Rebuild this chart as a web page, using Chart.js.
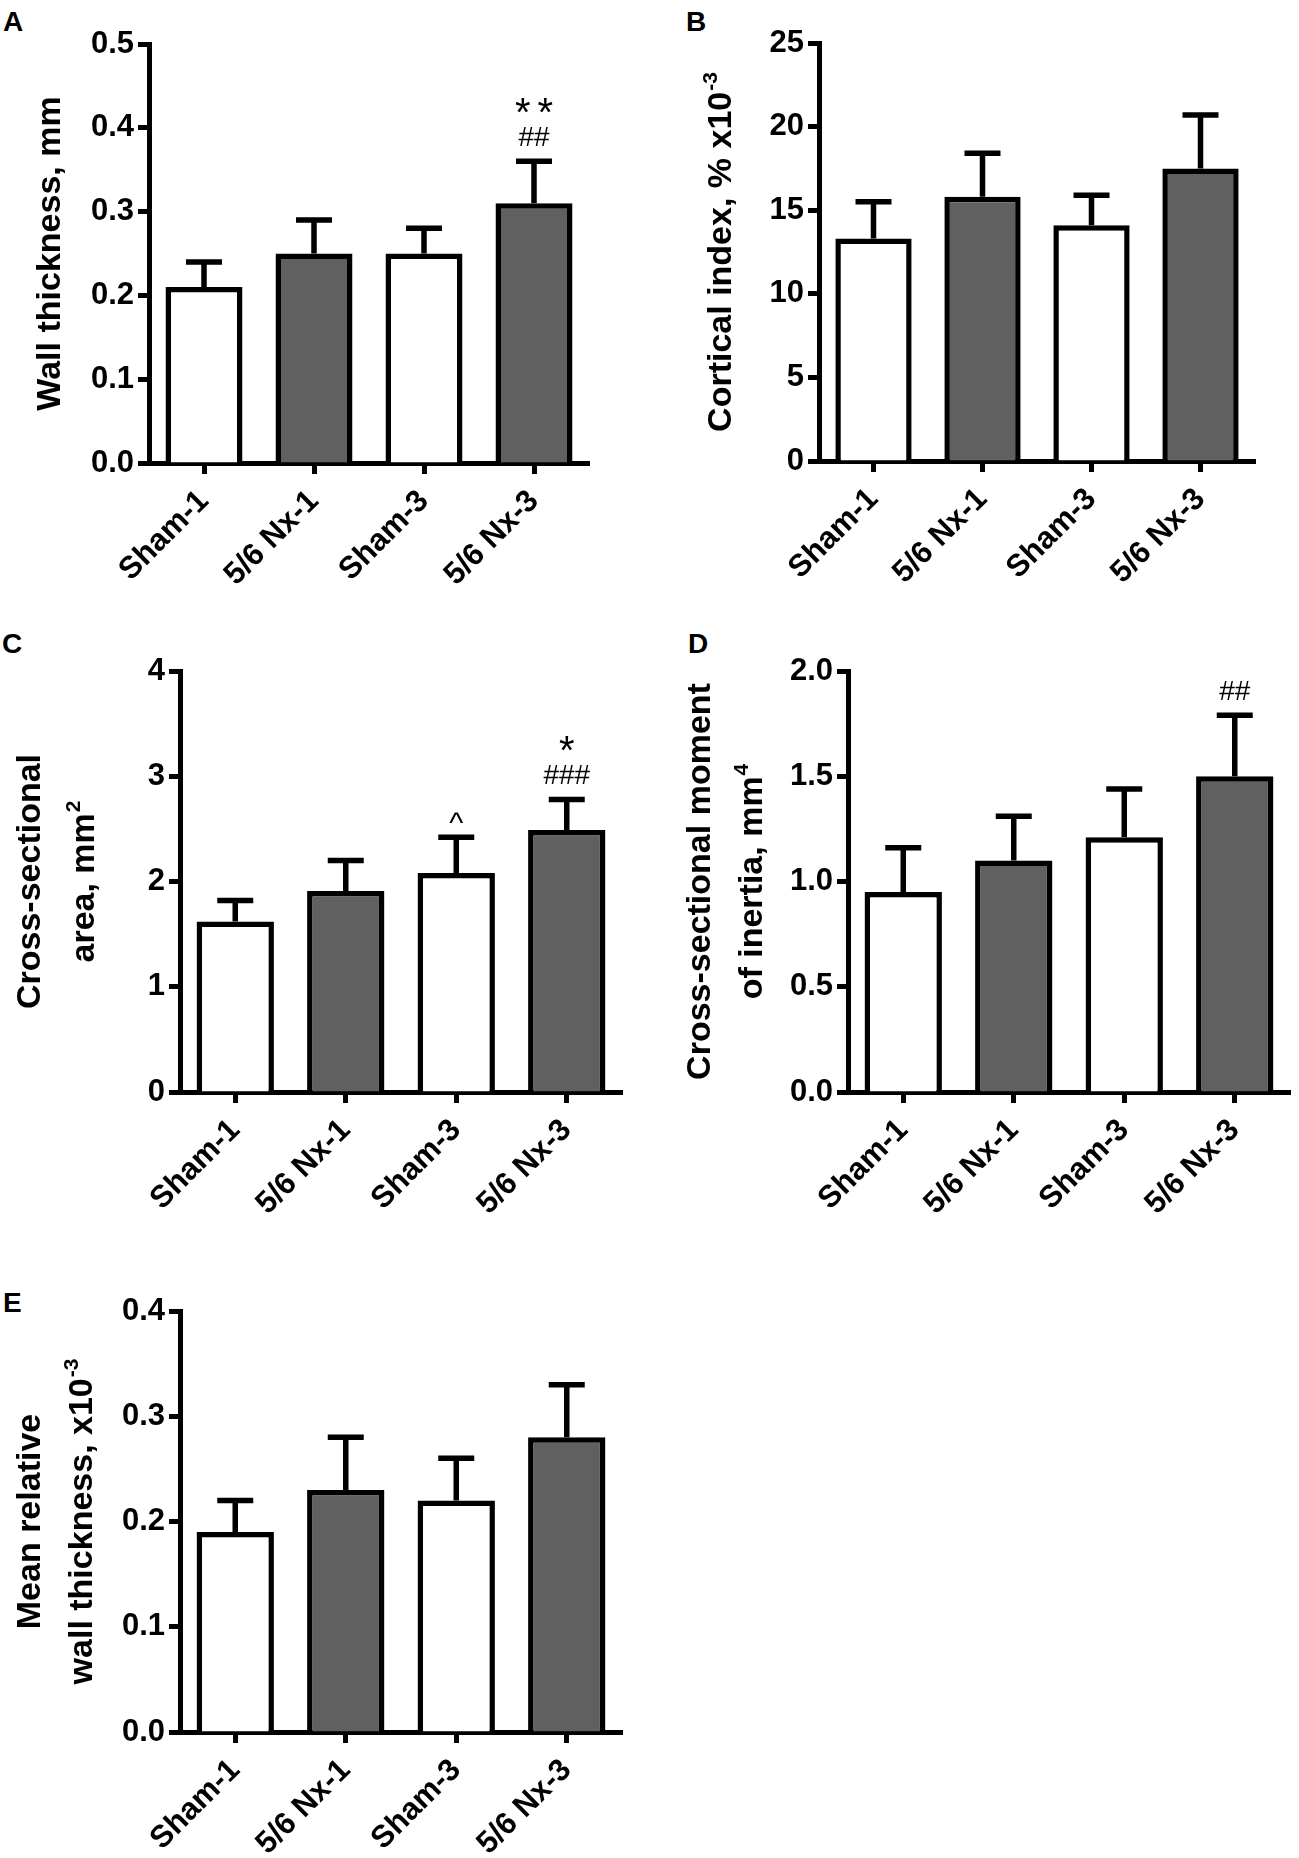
<!DOCTYPE html>
<html>
<head>
<meta charset="utf-8">
<script src="https://cdn.jsdelivr.net/npm/chart.js@4.4.1/dist/chart.umd.min.js"></script>
<style>
  body { margin: 0; background: #fff; }
  #wrap { position: relative; width: 1299px; height: 1858px; background: #fff; }
  canvas { position: absolute; }
  .tag { position: absolute; font: bold 28px "Liberation Sans", Arial, sans-serif; line-height: 28px; color: #000; }
</style>
</head>
<body>
<div id="wrap">
  <div class="tag" style="left:3px;top:8px">A</div>
  <div class="tag" style="left:686px;top:8px">B</div>
  <div class="tag" style="left:2px;top:630px">C</div>
  <div class="tag" style="left:688px;top:630px">D</div>
  <div class="tag" style="left:3px;top:1289px">E</div>
  <canvas id="cA" width="650" height="620" style="left:0;top:0"></canvas>
  <canvas id="cB" width="649" height="620" style="left:650px;top:0"></canvas>
  <canvas id="cC" width="650" height="618" style="left:0;top:620px"></canvas>
  <canvas id="cD" width="649" height="618" style="left:650px;top:620px"></canvas>
  <canvas id="cE" width="650" height="620" style="left:0;top:1238px"></canvas>
</div>
<script>
// groups on the x axis
const categories = ['Sham-1', '5/6 Nx-1', 'Sham-3', '5/6 Nx-3'];
const barFills = ['#ffffff', '#606060', '#ffffff', '#606060'];

// A - wall thickness (mean and mean+SD)
const wallThickness = [0.21, 0.25, 0.25, 0.31];
const wallThicknessTop = [0.24, 0.29, 0.28, 0.36];
// B - cortical index
const corticalIndex = [13.3, 15.8, 14.1, 17.5];
const corticalIndexTop = [15.5, 18.4, 15.9, 20.7];
// C - cross-sectional area
const crossArea = [1.62, 1.91, 2.08, 2.49];
const crossAreaTop = [1.82, 2.20, 2.42, 2.78];
// D - cross-sectional moment of inertia
const inertia = [0.95, 1.10, 1.21, 1.50];
const inertiaTop = [1.16, 1.31, 1.44, 1.79];
// E - mean relative wall thickness
const relWall = [0.19, 0.23, 0.22, 0.28];
const relWallTop = [0.22, 0.28, 0.26, 0.33];

// significance marks above the error bars, bottom line first
const marksA = [[], [], [], ['##', '**']];
const marksB = [[], [], [], []];
const marksC = [[], [], ['^'], ['###', '*']];
const marksD = [[], [], [], ['##']];
const marksE = [[], [], [], []];

// y axis titles, text after ^ is a superscript
const titleA = ['Wall thickness, mm'];
const titleB = ['Cortical index, % x10^-3'];
const titleC = ['Cross-sectional', 'area, mm^2'];
const titleD = ['Cross-sectional moment', 'of inertia, mm^4'];
const titleE = ['Mean relative', 'wall thickness, x10^-3'];

const FONT = '"Liberation Sans", Arial, sans-serif';
Chart.defaults.font.family = FONT;
Chart.defaults.color = '#000';

const errorBars = {
  id: 'errorBars',
  afterDatasetsDraw(chart, args, opts) {
    const ctx = chart.ctx;
    const y = chart.scales.y;
    const meta = chart.getDatasetMeta(0);
    ctx.save();
    ctx.strokeStyle = '#000';
    ctx.lineWidth = 5.5;
    meta.data.forEach((bar, i) => {
      const top = y.getPixelForValue(opts.tops[i]);
      ctx.beginPath();
      ctx.moveTo(bar.x, bar.y);
      ctx.lineTo(bar.x, top);
      ctx.moveTo(bar.x - 18, top);
      ctx.lineTo(bar.x + 18, top);
      ctx.stroke();
    });
    ctx.restore();
  }
};

// font size and glyph centre (fraction of size above baseline) for each mark
const markStyle = {
  '#': { size: 28, centre: 0.36 },
  '*': { size: 40, centre: 0.55 },
  '^': { size: 30, centre: 0.52 }
};

const sigMarks = {
  id: 'sigMarks',
  afterDatasetsDraw(chart, args, opts) {
    const ctx = chart.ctx;
    const y = chart.scales.y;
    const meta = chart.getDatasetMeta(0);
    ctx.save();
    ctx.fillStyle = '#000';
    ctx.textAlign = 'center';
    ctx.textBaseline = 'alphabetic';
    meta.data.forEach((bar, i) => {
      const top = y.getPixelForValue(opts.tops[i]);
      let rise = 0;
      opts.marks[i].forEach((txt, k) => {
        const st = markStyle[txt[0]];
        rise += (k === 0) ? (txt[0] === '^' ? 20 : 25) : 32;
        ctx.font = st.size + 'px ' + FONT;
        const spaced = txt[0] === '*' && txt.length > 1;
        ctx.letterSpacing = spaced ? '7px' : '0px';
        ctx.fillText(txt, bar.x + (spaced ? 3.5 : 0), top - rise + st.centre * st.size);
      });
    });
    ctx.restore();
  }
};

const axisTitle = {
  id: 'axisTitle',
  afterDraw(chart, args, opts) {
    const ctx = chart.ctx;
    const area = chart.chartArea;
    const cy = (area.top + area.bottom) / 2;
    ctx.save();
    ctx.fillStyle = '#000';
    ctx.textBaseline = 'alphabetic';
    ctx.textAlign = 'left';
    opts.lines.forEach((line, k) => {
      const [main, sup] = line.split('^');
      ctx.font = 'bold 34px ' + FONT;
      const wMain = ctx.measureText(main).width;
      ctx.font = 'bold 21px ' + FONT;
      const wSup = sup ? ctx.measureText(sup).width + 1 : 0;
      ctx.save();
      ctx.translate(opts.x[k] + 12.2, cy);
      ctx.rotate(-Math.PI / 2);
      const x0 = -(wMain + wSup) / 2;
      ctx.font = 'bold 34px ' + FONT;
      ctx.fillText(main, x0, 0);
      if (sup) {
        ctx.font = 'bold 21px ' + FONT;
        ctx.fillText(sup, x0 + wMain + 1, -14);
      }
      ctx.restore();
    });
    ctx.restore();
  }
};

function panel(id, values, tops, marks, yMin, yMax, step, decimals, title, box) {
  const cv = document.getElementById(id);
  const tickFont = { size: 31, weight: 'bold' };
  const gridOpts = { display: true, drawOnChartArea: false, tickLength: 11, tickWidth: 5, tickColor: '#000' };
  new Chart(cv.getContext('2d'), {
    type: 'bar',
    data: {
      labels: categories,
      datasets: [{
        data: values,
        backgroundColor: barFills,
        borderColor: '#000',
        borderWidth: 5.5,
        borderSkipped: 'start',
        barPercentage: 0.7,
        categoryPercentage: 1
      }]
    },
    options: {
      responsive: false,
      animation: false,
      devicePixelRatio: 1,
      layout: { padding: { left: 0, top: box.top, right: cv.width - box.right, bottom: 0 } },
      plugins: {
        legend: { display: false },
        tooltip: { enabled: false },
        errorBars: { tops },
        sigMarks: { tops, marks },
        axisTitle: { lines: title, x: box.tx }
      },
      scales: {
        x: {
          z: 1,
          grid: Object.assign({ offset: false }, gridOpts),
          border: { display: true, color: '#000', width: 5 },
          ticks: { color: '#000', font: tickFont, minRotation: 45, maxRotation: 45, autoSkip: false, padding: 9 },
          afterFit: s => { s.height = cv.height - box.bottom; }
        },
        y: {
          z: 1,
          min: yMin,
          max: yMax,
          grid: gridOpts,
          border: { display: true, color: '#000', width: 5 },
          ticks: { color: '#000', stepSize: step, font: tickFont, padding: 4,
                   callback: v => v.toFixed(decimals) },
          afterFit: s => { s.width = box.left; }
        }
      }
    },
    plugins: [errorBars, sigMarks, axisTitle]
  });
}

panel('cA', wallThickness, wallThicknessTop, marksA, 0, 0.5, 0.1, 1, titleA,
      { left: 149, top: 44, right: 589, bottom: 463, tx: [48] });
panel('cB', corticalIndex, corticalIndexTop, marksB, 0, 25, 5, 0, titleB,
      { left: 169, top: 43, right: 605, bottom: 461, tx: [69] });
panel('cC', crossArea, crossAreaTop, marksC, 0, 4, 1, 0, titleC,
      { left: 180, top: 51, right: 622, bottom: 472, tx: [27.5, 82] });
panel('cD', inertia, inertiaTop, marksD, 0, 2, 0.5, 1, titleD,
      { left: 198, top: 51, right: 640, bottom: 472, tx: [48, 100] });
panel('cE', relWall, relWallTop, marksE, 0, 0.4, 0.1, 1, titleE,
      { left: 180, top: 73, right: 622, bottom: 494, tx: [27.5, 79.5] });
</script>
</body>
</html>
